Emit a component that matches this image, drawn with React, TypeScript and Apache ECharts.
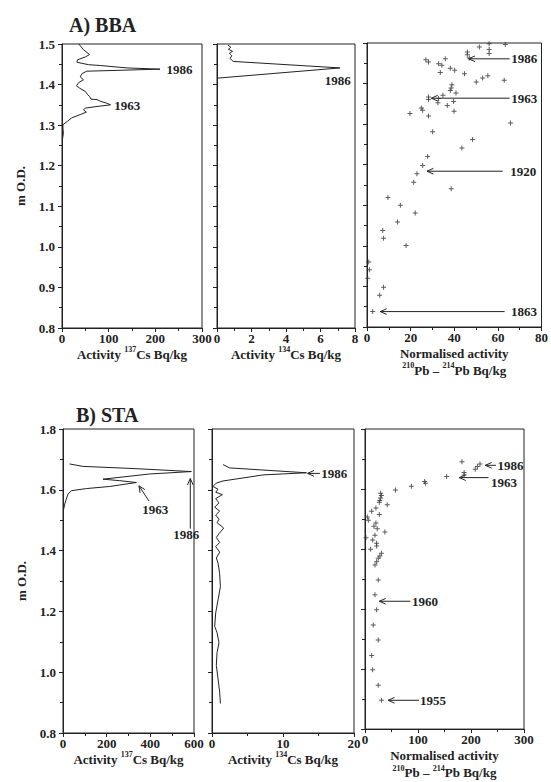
import React, { useEffect, useRef } from "react";
import * as echarts from "echarts";

const FONT = "'Liberation Serif', 'Times New Roman', serif";
const INK = "#222";

// ---------- Panel A (BBA) ----------
const csA137: [number, number][] = [
  [36, 1.5], [46, 1.486], [59, 1.474], [50, 1.468], [33, 1.461], [32, 1.455], [57, 1.449],
  [82, 1.447], [139, 1.441], [210, 1.438], [118, 1.435], [53, 1.433], [43, 1.427], [39, 1.419],
  [46, 1.412], [36, 1.405], [31, 1.397], [38, 1.391], [50, 1.383], [55, 1.375], [59, 1.371],
  [62, 1.364], [75, 1.363], [82, 1.359], [96, 1.354], [104, 1.35], [75, 1.346], [50, 1.342],
  [46, 1.338], [52, 1.332], [39, 1.326], [21, 1.318], [11, 1.309], [2, 1.301], [2, 1.293],
  [3, 1.28], [1, 1.265],
];
const csA134: [number, number][] = [
  [0.64, 1.497], [0.8, 1.492], [0.66, 1.487], [0.9, 1.482], [0.72, 1.477], [0.86, 1.471],
  [0.76, 1.465], [0.85, 1.46], [0.95, 1.457], [7.13, 1.441], [0.06, 1.416],
];
const pbA: [number, number][] = [
  [51.5, 1.49], [56, 1.498], [63.4, 1.496], [56, 1.484], [56, 1.474], [46, 1.478], [46, 1.471],
  [46.9, 1.463], [27, 1.459], [28.2, 1.453], [35.9, 1.461], [32.8, 1.449], [34.3, 1.445],
  [33.6, 1.427], [38.2, 1.438], [40.2, 1.433], [44.7, 1.424], [55.4, 1.419], [53, 1.414],
  [50.1, 1.404], [62.9, 1.408], [38.9, 1.397], [38.6, 1.389], [38.2, 1.383], [40.8, 1.377],
  [34.8, 1.371], [28.2, 1.367], [28.2, 1.361], [32.8, 1.363], [32.5, 1.353], [39.7, 1.356],
  [36.8, 1.346], [24.9, 1.34], [25.5, 1.334], [39.9, 1.332], [19.7, 1.326], [28.2, 1.32],
  [65.8, 1.303], [30.1, 1.281], [48.4, 1.262], [43.5, 1.241], [27.8, 1.22], [25.5, 1.198],
  [22.9, 1.178], [21.4, 1.157], [38.6, 1.141], [9.6, 1.119], [15.3, 1.1], [22.1, 1.081],
  [14, 1.059], [7.2, 1.038], [7.6, 1.019], [17.9, 1.001], [0.8, 0.96], [1.1, 0.941],
  [0.3, 0.92], [7.6, 0.898], [5.8, 0.878], [2.6, 0.838],
];

// ---------- Panel B (STA) ----------
const csB137: [number, number][] = [
  [30, 1.685], [92, 1.677], [321, 1.67], [588, 1.66], [397, 1.652], [183, 1.635], [260, 1.63],
  [336, 1.624], [214, 1.611], [107, 1.604], [38, 1.597], [23, 1.586], [15, 1.569], [8, 1.553],
  [3, 1.536],
];
const csB134: [number, number][] = [
  [1.55, 1.683], [2.49, 1.672], [7.2, 1.665], [13.3, 1.656], [7.2, 1.649], [1.55, 1.629],
  [0.6, 1.622], [0.14, 1.611], [0.85, 1.602], [0.52, 1.592], [1.46, 1.584], [0.52, 1.571],
  [0.99, 1.557], [0.38, 1.543], [1.08, 1.53], [0.52, 1.517], [0.99, 1.503], [0.71, 1.492],
  [1.65, 1.474], [0.99, 1.456], [0.61, 1.443], [1.08, 1.427], [0.52, 1.413], [1.08, 1.395],
  [0.61, 1.376], [0.85, 1.359], [1.08, 1.324], [1.18, 1.281], [0.85, 1.238], [0.52, 1.195],
  [0.38, 1.151], [0.71, 1.13], [0.99, 1.097], [0.71, 1.065], [0.61, 1.022], [0.85, 0.978],
  [1.08, 0.935], [1.18, 0.897],
];
const pbB: [number, number][] = [
  [183, 1.691], [217, 1.683], [212, 1.675], [208, 1.666], [187, 1.655], [187, 1.647],
  [154, 1.642], [112.5, 1.625], [114, 1.619], [87.5, 1.609], [57.5, 1.597], [29.4, 1.586],
  [31, 1.578], [29.4, 1.57], [28, 1.562], [42, 1.548], [27, 1.556], [20.6, 1.537],
  [12.5, 1.526], [4.4, 1.507], [6.3, 1.496], [27, 1.515], [20.6, 1.487], [16.9, 1.476],
  [23, 1.468], [37.5, 1.457], [18.8, 1.446], [1.9, 1.438], [14.4, 1.43], [21.9, 1.419],
  [21.9, 1.41], [10.6, 1.399], [31, 1.386], [28, 1.377], [25, 1.369], [21.9, 1.358],
  [18.8, 1.347], [25, 1.297], [18.8, 1.248], [21.9, 1.198], [15.6, 1.147], [25, 1.097],
  [12.5, 1.045], [14.4, 0.998], [25, 0.946], [31, 0.896],
];

// ---------- Annotations (data coordinates) ----------
type Ann = {
  text: string;
  at: [number, number];
  align: "left" | "center" | "right";
  head?: [number, number];
  tail?: [number, number];
};
const annA137: Ann[] = [
  { text: "1986", at: [224, 1.437], align: "left" },
  { text: "1963", at: [112, 1.348], align: "left" },
];
const annA134: Ann[] = [{ text: "1986", at: [7.75, 1.41], align: "right" }];
const annApb: Ann[] = [
  { text: "1986", at: [66.1, 1.461], align: "left", head: [46.6, 1.461], tail: [65.4, 1.461] },
  { text: "1963", at: [66.1, 1.364], align: "left", head: [29.5, 1.364], tail: [65.4, 1.364] },
  { text: "1920", at: [65.7, 1.184], align: "left", head: [27.5, 1.184], tail: [62.2, 1.184] },
  { text: "1863", at: [66, 0.838], align: "left", head: [6.1, 0.838], tail: [63.1, 0.838] },
];
const annB137: Ann[] = [
  { text: "1963", at: [423, 1.534], align: "center", head: [348, 1.613], tail: [394, 1.563] },
  { text: "1986", at: [565, 1.454], align: "center", head: [583, 1.637], tail: [583, 1.472] },
];
const annB134: Ann[] = [
  { text: "1986", at: [15.4, 1.654], align: "left", head: [13.46, 1.654], tail: [15.2, 1.654] },
];
const annBpb: Ann[] = [
  { text: "1986", at: [250, 1.679], align: "left", head: [227, 1.679], tail: [247, 1.679] },
  { text: "1963", at: [237.5, 1.622], align: "left", head: [178, 1.638], tail: [233, 1.638] },
  { text: "1960", at: [88.7, 1.226], align: "left", head: [27, 1.226], tail: [85.6, 1.226] },
  { text: "1955", at: [104, 0.896], align: "left", head: [43.7, 0.896], tail: [102, 0.896] },
];

const titles = ["A) BBA", "B) STA"];
const yName = "m O.D.";
const xNames = [
  "Activity {s|137}Cs Bq/kg",
  "Activity {s|134}Cs Bq/kg",
  "Normalised activity\n{s|210}Pb \u2013 {s|214}Pb Bq/kg",
];

const grids = [
  { left: 62, top: 44, width: 140, height: 284 },
  { left: 217, top: 44, width: 138, height: 284 },
  { left: 367, top: 43, width: 180, height: 284 },
  { left: 63, top: 429, width: 131, height: 304 },
  { left: 212, top: 429, width: 142, height: 304 },
  { left: 365, top: 429, width: 159, height: 304 },
];

const labelStyle = { fontFamily: FONT, fontWeight: "bold" as const, fontSize: 13, color: INK };

function xAx(gi: number, max: number, interval: number, name: string) {
  return {
    type: "value",
    gridIndex: gi,
    min: 0,
    max,
    interval,
    name,
    nameLocation: "middle",
    nameGap: 17,
    nameTextStyle: {
      ...labelStyle,
      lineHeight: 17,
      rich: { s: { fontFamily: FONT, fontWeight: "bold", fontSize: 8, color: INK, verticalAlign: "top", lineHeight: 10 } },
    },
    axisLine: { show: true, lineStyle: { color: INK, width: 1 } },
    axisTick: { show: true, length: 4, lineStyle: { color: INK } },
    minorTick: { show: true, splitNumber: 2, length: 3, lineStyle: { color: INK } },
    splitLine: { show: false },
    axisLabel: { ...labelStyle, margin: 4 },
  };
}

function yAx(gi: number, min: number, max: number, interval: number, labels: boolean) {
  return {
    type: "value",
    gridIndex: gi,
    min,
    max,
    interval,
    name: labels ? yName : "",
    nameLocation: "middle",
    nameGap: 35,
    nameRotate: 90,
    nameTextStyle: { ...labelStyle },
    axisLine: { show: true, lineStyle: { color: INK, width: 1 } },
    axisTick: { show: true, length: 4, lineStyle: { color: INK } },
    minorTick: { show: true, splitNumber: 2, length: 3, lineStyle: { color: INK } },
    splitLine: { show: false },
    axisLabel: { ...labelStyle, show: labels, margin: 7, formatter: (v: number) => v.toFixed(1) },
  };
}

function lineSeries(gi: number, data: [number, number][]) {
  return {
    type: "line",
    xAxisIndex: gi,
    yAxisIndex: gi,
    data,
    showSymbol: false,
    symbol: "none",
    lineStyle: { color: INK, width: 1 },
    silent: true,
  };
}

const CROSS = "path://M2,0H3V2H5V3H3V5H2V3H0V2H2Z";

function pointSeries(gi: number, data: [number, number][]) {
  return {
    type: "scatter",
    xAxisIndex: gi,
    yAxisIndex: gi,
    data,
    symbol: CROSS,
    symbolSize: 5,
    itemStyle: { color: "#333" },
    silent: true,
  };
}

function annSeries(gi: number, anns: Ann[]) {
  return {
    type: "custom",
    xAxisIndex: gi,
    yAxisIndex: gi,
    clip: false,
    silent: true,
    data: anns.map((a) => [a.at[0], a.at[1]]),
    encode: { x: 0, y: 1 },
    renderItem: (params: any, api: any) => {
      const a = anns[params.dataIndex];
      const children: any[] = [];
      if (a.head && a.tail) {
        const h = api.coord(a.head);
        const t = api.coord(a.tail);
        children.push({
          type: "line",
          shape: { x1: t[0], y1: t[1], x2: h[0], y2: h[1] },
          style: { stroke: INK, lineWidth: 1 },
        });
        const ang = Math.atan2(t[1] - h[1], t[0] - h[0]);
        const L = 7;
        const w = 0.42;
        children.push({
          type: "polyline",
          shape: {
            points: [
              [h[0] + L * Math.cos(ang + w), h[1] + L * Math.sin(ang + w)],
              [h[0], h[1]],
              [h[0] + L * Math.cos(ang - w), h[1] + L * Math.sin(ang - w)],
            ],
          },
          style: { stroke: INK, lineWidth: 1, fill: "none" },
        });
      }
      const p = api.coord(a.at);
      children.push({
        type: "text",
        x: p[0],
        y: p[1],
        style: {
          text: a.text,
          fill: INK,
          fontFamily: FONT,
          fontWeight: "bold",
          fontSize: 13,
          align: a.align,
          verticalAlign: "middle",
        },
      });
      return { type: "group", children };
    },
  };
}

export default function App() {
  const ref = useRef<HTMLDivElement>(null);
  useEffect(() => {
    if (!ref.current) return;
    const chart = echarts.init(ref.current, null, { renderer: "svg" });
    chart.setOption({
      animation: false,
      backgroundColor: "#fff",
      title: [
        { text: titles[0], left: 64, top: 10, textStyle: { fontFamily: FONT, fontWeight: "bold", fontSize: 20, color: INK } },
        { text: titles[1], left: 71, top: 400, textStyle: { fontFamily: FONT, fontWeight: "bold", fontSize: 20, color: INK } },
      ],
      grid: grids.map((g) => ({ ...g, show: true, borderColor: INK, borderWidth: 1, backgroundColor: "transparent" })),
      xAxis: [
        xAx(0, 300, 100, xNames[0]),
        xAx(1, 8, 2, xNames[1]),
        xAx(2, 80, 20, xNames[2]),
        xAx(3, 600, 200, xNames[0]),
        xAx(4, 20, 10, xNames[1]),
        xAx(5, 300, 100, xNames[2]),
      ],
      yAxis: [
        yAx(0, 0.8, 1.5, 0.1, true),
        yAx(1, 0.8, 1.5, 0.1, false),
        yAx(2, 0.8, 1.5, 0.1, false),
        yAx(3, 0.8, 1.8, 0.2, true),
        yAx(4, 0.8, 1.8, 0.2, false),
        yAx(5, 0.8, 1.8, 0.2, false),
      ],
      series: [
        lineSeries(0, csA137),
        lineSeries(1, csA134),
        pointSeries(2, pbA),
        lineSeries(3, csB137),
        lineSeries(4, csB134),
        pointSeries(5, pbB),
        annSeries(0, annA137),
        annSeries(1, annA134),
        annSeries(2, annApb),
        annSeries(3, annB137),
        annSeries(4, annB134),
        annSeries(5, annBpb),
      ],
    });
    return () => chart.dispose();
  }, []);
  return (
    <div
      ref={ref}
      style={{ position: "absolute", left: 0, top: 0, width: 551, height: 782, background: "#fff" }}
    />
  );
}
